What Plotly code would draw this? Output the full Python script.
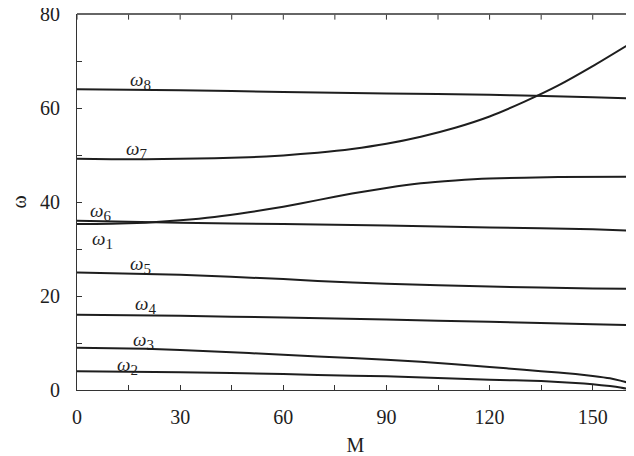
import plotly.graph_objects as go

# ---- data ----
M_w8 = [0, 30, 60, 90, 120, 133, 150, 162]
w8 = [64.0, 63.8, 63.4, 63.1, 62.8, 62.6, 62.3, 62.0]

M_w7 = [0, 10, 20, 30, 40, 50, 60, 70, 80, 90, 100, 110, 120, 130, 140, 150, 162]
w7 = [49.2, 49.1, 49.1, 49.2, 49.3, 49.5, 49.9, 50.5, 51.3, 52.4, 53.9, 55.8, 58.2, 61.3, 64.8, 68.9, 74.2]

M_w6 = [0, 10, 20, 30, 40, 50, 60, 70, 80, 90, 100, 110, 120, 140, 162]
w6 = [35.3, 35.35, 35.6, 36.1, 36.8, 37.8, 39.0, 40.4, 41.8, 43.0, 44.0, 44.6, 45.0, 45.3, 45.4]

M_w1 = [0, 30, 60, 90, 120, 150, 162]
w1 = [36.0, 35.6, 35.3, 35.0, 34.6, 34.2, 33.9]

M_w5 = [0, 30, 60, 70, 90, 120, 150, 162]
w5 = [25.0, 24.5, 23.6, 23.2, 22.6, 22.0, 21.6, 21.5]

M_w4 = [0, 30, 60, 90, 120, 150, 162]
w4 = [16.0, 15.8, 15.4, 15.0, 14.5, 14.0, 13.8]

M_w3 = [0, 20, 40, 60, 80, 100, 120, 130, 140, 145, 150, 155, 158, 160, 162]
w3 = [9.0, 8.8, 8.2, 7.5, 6.8, 6.0, 4.9, 4.3, 3.7, 3.4, 3.0, 2.5, 2.0, 1.6, 1.0]

M_w2 = [0, 30, 60, 70, 90, 120, 135, 145, 150, 155, 158, 160, 160.8]
w2 = [4.0, 3.8, 3.4, 3.2, 2.9, 2.2, 1.9, 1.5, 1.2, 0.85, 0.55, 0.25, 0.0]

series = [(M_w8, w8), (M_w7, w7), (M_w6, w6), (M_w1, w1),
          (M_w5, w5), (M_w4, w4), (M_w3, w3), (M_w2, w2)]

label_text = ["8", "7", "6", "1", "5", "4", "3", "2"]
label_M = [18.6, 17.4, 6.7, 7.3, 18.6, 19.8, 19.2, 14.8]
label_w = [65.8, 51.1, 37.9, 32.0, 26.7, 18.1, 10.5, 5.2]

# major ticks carry labels, the ones in between are unlabelled minor ticks
x_tickvals = [0, 15, 30, 45, 60, 75, 90, 105, 120, 135, 150]
x_ticktext = ["0", "", "30", "", "60", "", "90", "", "120", "", "150"]
y_tickvals = [0, 10, 20, 30, 40, 50, 60, 70, 80]
y_ticktext = ["0", "", "20", "", "40", "", "60", "", "80"]

FONT = "Liberation Serif, Times New Roman, serif"
INK = "#1e1e1e"
AX = "#333"

fig = go.Figure()
for mx, wy in series:
    fig.add_trace(go.Scatter(x=mx, y=wy, mode="lines",
                             line=dict(color=INK, width=2, shape="spline", smoothing=0.5),
                             showlegend=False, hoverinfo="skip"))

for t, mx, wy in zip(label_text, label_M, label_w):
    fig.add_annotation(x=mx, y=wy, xref="x", yref="y", showarrow=False,
                       text=f"<i>ω</i><sub><span style='font-size:15px'>{t}</span></sub>",
                       font=dict(family=FONT, size=19, color=INK))

# top frame line (paper coords, not clipped) with inward ticks
fig.add_shape(type="line", xref="paper", yref="paper", x0=0, x1=1, y0=1, y1=1,
              line=dict(color=AX, width=1.5), layer="above")
for xv in x_tickvals:
    fig.add_shape(type="line", xref="x", yref="paper", x0=xv, x1=xv, y0=0.998, y1=0.985,
                  line=dict(color=AX, width=1), layer="above")

# the page body has an 8px margin, so the figure is a little smaller than the window
fig.update_layout(
    width=626, height=448,
    margin=dict(l=69, r=0, t=6, b=66),
    paper_bgcolor="white", plot_bgcolor="white",
    font=dict(family=FONT, size=20, color=INK),
)
fig.update_xaxes(range=[0, 162], tickmode="array", tickvals=x_tickvals, ticktext=x_ticktext,
                 ticks="inside", ticklen=5, tickwidth=1, tickcolor=AX,
                 showline=True, linecolor=AX, linewidth=1.2, mirror=False,
                 showgrid=False, zeroline=False, automargin=False,
                 ticklabelstandoff=9,
                 title=dict(text="M", font=dict(family=FONT, size=20), standoff=10))
fig.update_yaxes(range=[0, 80], tickmode="array", tickvals=y_tickvals, ticktext=y_ticktext,
                 ticks="inside", ticklen=5, tickwidth=1, tickcolor=AX,
                 showline=True, linecolor=AX, linewidth=1.2, mirror=False,
                 showgrid=False, zeroline=False, automargin=False,
                 ticklabeloverflow="allow", ticklabelstandoff=12,
                 title=dict(text="ω", font=dict(family=FONT, size=20), standoff=22))

fig.write_html("out.html")
